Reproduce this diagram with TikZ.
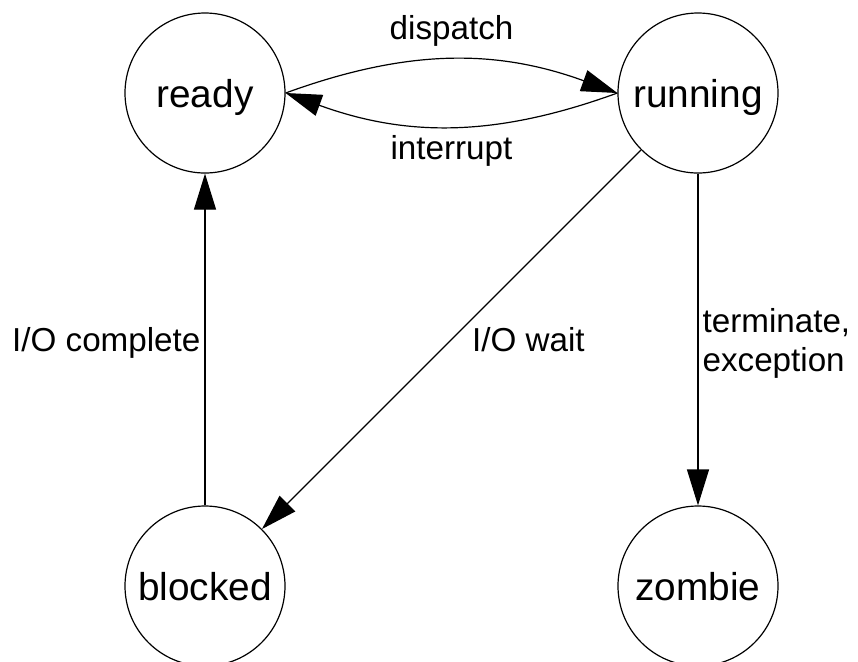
\documentclass[tikz,border=0pt]{standalone}
\usepackage{fontspec}
\setmainfont{Liberation Sans}
\usetikzlibrary{arrows.meta}
\begin{document}
\begin{tikzpicture}[x=0.5pt, y=-0.5pt, line width=0.6pt,
    >={Triangle[length=18pt,width=11pt]},
    state/.style={draw, circle, minimum size=80pt, inner sep=0pt, text depth=0pt, font=\fontsize{19.4}{23}\selectfont},
    lbl/.style={font=\fontsize{16.6}{19.5}\selectfont, inner sep=0pt, text depth=0pt}]
    \useasboundingbox (0,0) rectangle (858,661);

    \node[state] (ready) at (205,93) {ready};
    \node[state] (running) at (698,93) {running};
    \node[state] (blocked) at (205,586) {blocked};
    \node[state] (zombie) at (698,586) {zombie};

    \draw[->] (ready.east) to[bend left=20] node[lbl, above=10pt] {dispatch} (running.west);
    \draw[->] (running.west) to[bend left=20] node[lbl, below=4.5pt] {interrupt} (ready.east);

    \draw[->] (blocked) -- node[lbl, left=2pt] {I/O complete} (ready);
    \draw[->] (running) -- node[lbl, right=10pt] {I/O wait} (blocked);
    \draw[->] (running) -- node[lbl, right=2pt, align=left] {terminate,\\exception} (zombie);
\end{tikzpicture}
\end{document}
